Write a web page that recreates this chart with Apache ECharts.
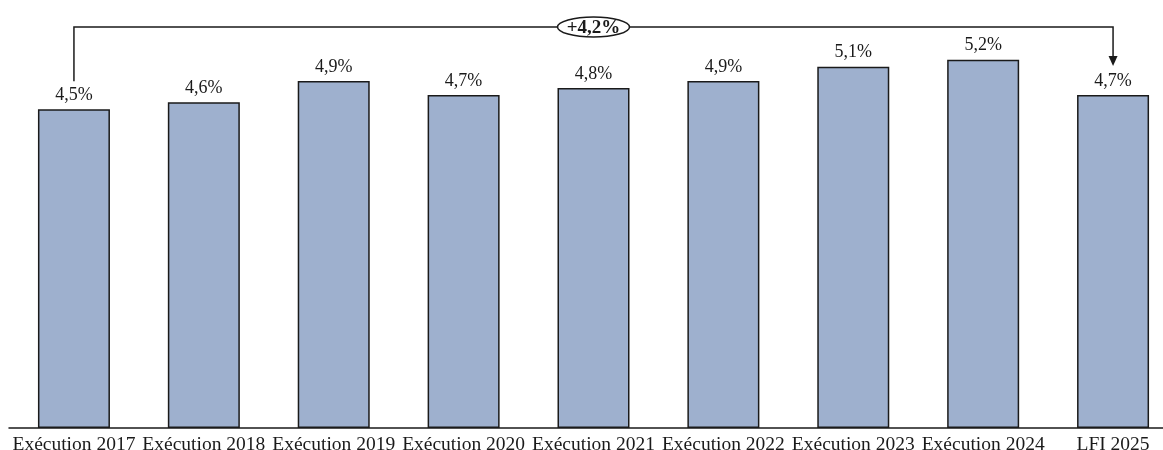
<!DOCTYPE html>
<html>
<head>
<meta charset="utf-8">
<script src="https://cdn.jsdelivr.net/npm/echarts@6/dist/echarts.min.js"></script>
<style>
  html, body { margin: 0; padding: 0; background: #fff; overflow: hidden; }
  #chart { width: 1163px; height: 450px; }
</style>
</head>
<body>
<div id="chart"></div>
<script>
// Part des dépenses par exercice (en %)
const categories = ['Exécution 2017', 'Exécution 2018', 'Exécution 2019', 'Exécution 2020',
  'Exécution 2021', 'Exécution 2022', 'Exécution 2023', 'Exécution 2024', 'LFI 2025'];
const values = [4.5, 4.6, 4.9, 4.7, 4.8, 4.9, 5.1, 5.2, 4.7];
// Évolution entre la première et la dernière colonne
const growthLabel = '+4,2%';
const growthFrom = 0;
const growthTo = 8;

const FONT = "'Liberation Serif', 'Times New Roman', serif";
const frPct = v => String(v).replace('.', ',') + '%';

const chart = echarts.init(document.getElementById('chart'), null, { renderer: 'canvas' });

chart.setOption({
  animation: false,
  backgroundColor: '#ffffff',
  // the last column runs slightly past the right edge of the page
  grid: { left: 9, width: 1169, top: 3, bottom: 22, outerBoundsMode: 'none', containLabel: false },
  xAxis: {
    type: 'category',
    data: categories,
    axisLine: { show: true, lineStyle: { color: '#1a1a1a', width: 1.5 } },
    axisTick: { show: false },
    axisLabel: { color: '#1a1a1a', fontFamily: FONT, fontSize: 19.5, margin: 7, interval: 0 }
  },
  yAxis: {
    type: 'value', min: 0, max: 6, show: false,
    splitLine: { show: false }
  },
  series: [{
    type: 'bar',
    data: values,
    barWidth: 72,
    itemStyle: { color: '#9eb0ce', borderColor: '#1a1a1a', borderWidth: 1.5 },
    label: {
      show: true, position: 'top', distance: 5,
      color: '#1a1a1a', fontFamily: FONT, fontSize: 18,
      formatter: p => frPct(p.value)
    }
  }]
});

// Bracket with the growth label, anchored on the two bars it links
function drawBracket() {
  const x1 = chart.convertToPixel({ xAxisIndex: 0 }, growthFrom);
  const x2 = chart.convertToPixel({ xAxisIndex: 0 }, growthTo);
  const y1 = chart.convertToPixel({ yAxisIndex: 0 }, values[growthFrom]) - 28;
  const y2 = chart.convertToPixel({ yAxisIndex: 0 }, values[growthTo]) - 29;
  const top = 27;
  const mid = (x1 + x2) / 2;
  const stroke = '#1a1a1a';
  chart.setOption({
    graphic: [
      {
        type: 'polyline', z: 10,
        shape: { points: [[x1, y1], [x1, top], [x2, top], [x2, y2 - 9]] },
        style: { stroke, lineWidth: 1.5, fill: null }
      },
      {
        type: 'polygon', z: 10,
        shape: { points: [[x2 - 4.5, y2 - 10], [x2 + 4.5, y2 - 10], [x2, y2]] },
        style: { fill: stroke }
      },
      {
        type: 'ellipse', z: 11,
        shape: { cx: mid, cy: top, rx: 36, ry: 10 },
        style: { fill: '#ffffff', stroke, lineWidth: 1.5 }
      },
      {
        type: 'text', z: 12,
        x: mid, y: top + 1,
        style: {
          text: growthLabel, fill: stroke, font: 'bold 19px ' + FONT,
          align: 'center', verticalAlign: 'middle'
        }
      }
    ]
  });
}
drawBracket();
</script>
</body>
</html>
